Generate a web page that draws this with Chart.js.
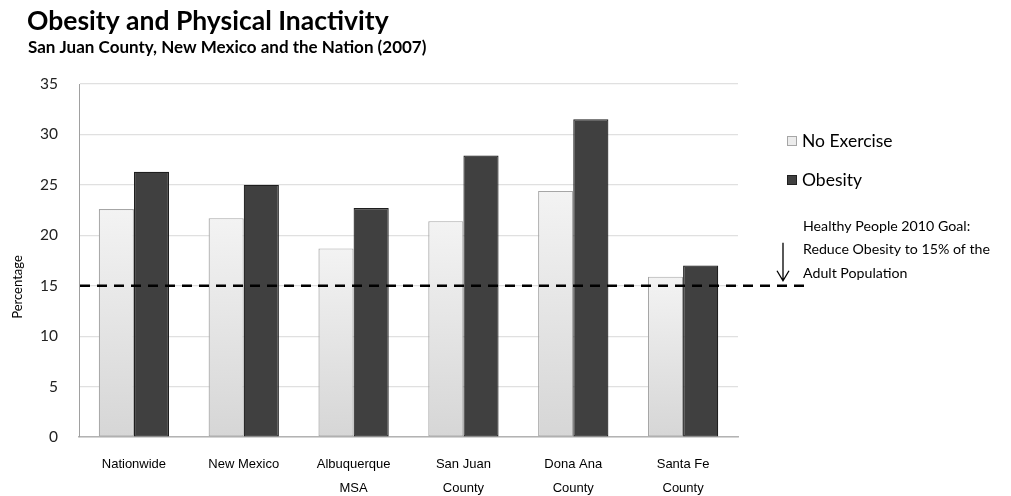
<!DOCTYPE html>
<html>
<head>
<meta charset="utf-8">
<script src="https://cdn.jsdelivr.net/npm/chart.js@4.4.1/dist/chart.umd.min.js"></script>
<style>
  html, body { margin: 0; padding: 0; background: #fff; }
  #wrap { position: relative; width: 1011px; height: 496px; }
</style>
</head>
<body>
<div id="wrap"><canvas id="c" width="1011" height="496"></canvas></div>
<script>
// Chart data
const categories = [
  'Nationwide', 'New Mexico', ['Albuquerque', 'MSA'], ['San Juan', 'County'],
  ['Dona Ana', 'County'], ['Santa Fe', 'County']
];
const noExercise = [22.6, 21.7, 18.7, 21.4, 24.4, 15.9];
const obesity = [26.3, 25.0, 22.7, 27.9, 31.5, 17.0];
const goalValue = 15;
const yTicks = [0, 5, 10, 15, 20, 25, 30, 35];
const titleText = 'Obesity and Physical Inactivity';
const subtitleText = 'San Juan County, New Mexico and the Nation (2007)';
const goalNote = ['Healthy People 2010 Goal:', 'Reduce Obesity to 15% of the', 'Adult Population'];
const yAxisLabel = 'Percentage';

const FONT = '"Lato", "Open Sans", sans-serif';

// Per-bar vertical gradient for the light series
function lightFill(ctx) {
  const chart = ctx.chart;
  const ys = chart.scales && chart.scales.y;
  if (!chart.chartArea || !ys || ctx.raw == null) return '#e6e6e6';
  const top = ys.getPixelForValue(ctx.raw);
  const bottom = ys.getPixelForValue(0);
  const g = chart.ctx.createLinearGradient(0, top, 0, bottom);
  g.addColorStop(0, '#f3f3f3');
  g.addColorStop(1, '#d6d6d6');
  return g;
}

const decorations = {
  id: 'decorations',
  afterDatasetsDraw(chart) {
    const { ctx, chartArea, scales } = chart;
    const yGoal = scales.y.getPixelForValue(goalValue);

    // Goal line
    ctx.save();
    ctx.strokeStyle = '#000';
    ctx.lineWidth = 2.5;
    ctx.setLineDash([10, 7]);
    ctx.beginPath();
    ctx.moveTo(chartArea.left + 1, yGoal);
    ctx.lineTo(chartArea.right + 66, yGoal);
    ctx.stroke();
    ctx.restore();

    // Arrow pointing at the goal line
    const ax = chartArea.right + 45;
    ctx.save();
    ctx.strokeStyle = '#000';
    ctx.lineWidth = 1.3;
    ctx.beginPath();
    ctx.moveTo(ax, yGoal - 43);
    ctx.lineTo(ax, yGoal - 5);
    ctx.moveTo(ax - 6, yGoal - 15);
    ctx.lineTo(ax, yGoal - 5);
    ctx.lineTo(ax + 6, yGoal - 15);
    ctx.stroke();
    ctx.restore();
  },
  afterDraw(chart) {
    const { ctx, chartArea } = chart;
    ctx.save();
    ctx.fillStyle = '#000';
    ctx.textBaseline = 'middle';
    ctx.textAlign = 'left';

    // Titles
    ctx.font = 'bold 26.5px ' + FONT;
    ctx.fillText(titleText, 27, 21);
    ctx.font = 'bold 17px ' + FONT;
    ctx.fillText(subtitleText, 28, 48);

    // Legend
    const ds = chart.data.datasets;
    const lx = chartArea.right + 49;
    const legendY = [141, 180];
    ds.forEach((d, i) => {
      const y = legendY[i];
      ctx.fillStyle = i === 0 ? '#ececec' : '#404040';
      ctx.fillRect(lx, y - 5, 10, 10);
      ctx.strokeStyle = i === 0 ? '#a6a6a6' : '#202020';
      ctx.lineWidth = 1;
      ctx.strokeRect(lx + 0.5, y - 4.5, 9, 9);
      ctx.fillStyle = '#000';
      ctx.font = '17.5px ' + FONT;
      ctx.fillText(d.label, lx + 15, y);
    });

    // Goal note
    ctx.font = '14.2px ' + FONT;
    goalNote.forEach((t, i) => ctx.fillText(t, chartArea.right + 65, 226 + i * 23.5));

    // Y axis title
    ctx.translate(18, 287);
    ctx.rotate(-Math.PI / 2);
    ctx.textAlign = 'center';
    ctx.font = '13px ' + FONT;
    ctx.fillText(yAxisLabel, 0, 0);
    ctx.restore();
  }
};

new Chart(document.getElementById('c'), {
  type: 'bar',
  data: {
    labels: categories,
    datasets: [
      {
        label: 'No Exercise',
        data: noExercise,
        backgroundColor: lightFill,
        borderColor: '#a6a6a6',
        borderWidth: 1.2,
        borderSkipped: false
      },
      {
        label: 'Obesity',
        data: obesity,
        backgroundColor: '#404040',
        borderColor: '#1e1e1e',
        borderWidth: 1.2,
        borderSkipped: false
      }
    ]
  },
  options: {
    responsive: false,
    animation: false,
    events: [],
    layout: { padding: { left: 0, top: 84, right: 273, bottom: 0 } },
    datasets: { bar: { categoryPercentage: 0.64, barPercentage: 1.0 } },
    plugins: {
      legend: { display: false },
      title: { display: false },
      tooltip: { enabled: false }
    },
    scales: {
      x: {
        afterFit(s) { s.height = 59; },
        grid: { display: false, drawTicks: false },
        border: { color: '#b3b3b3', width: 1.5 },
        ticks: {
          color: '#000',
          padding: 15,
          maxRotation: 0,
          autoSkip: false,
          font: { family: '"Liberation Sans", sans-serif', size: 13, lineHeight: 1.85 }
        }
      },
      y: {
        min: 0,
        max: 35,
        afterFit(s) { s.width = 79; },
        afterBuildTicks(s) { s.ticks = yTicks.map(v => ({ value: v })); },
        grid: { color: '#e0e0e0', lineWidth: 1.2, drawTicks: false },
        border: { color: '#a0a0a0', width: 1 },
        ticks: {
          color: '#222',
          padding: 21,
          font: { family: FONT, size: 15.5 }
        }
      }
    }
  },
  plugins: [decorations]
});
</script>
</body>
</html>
